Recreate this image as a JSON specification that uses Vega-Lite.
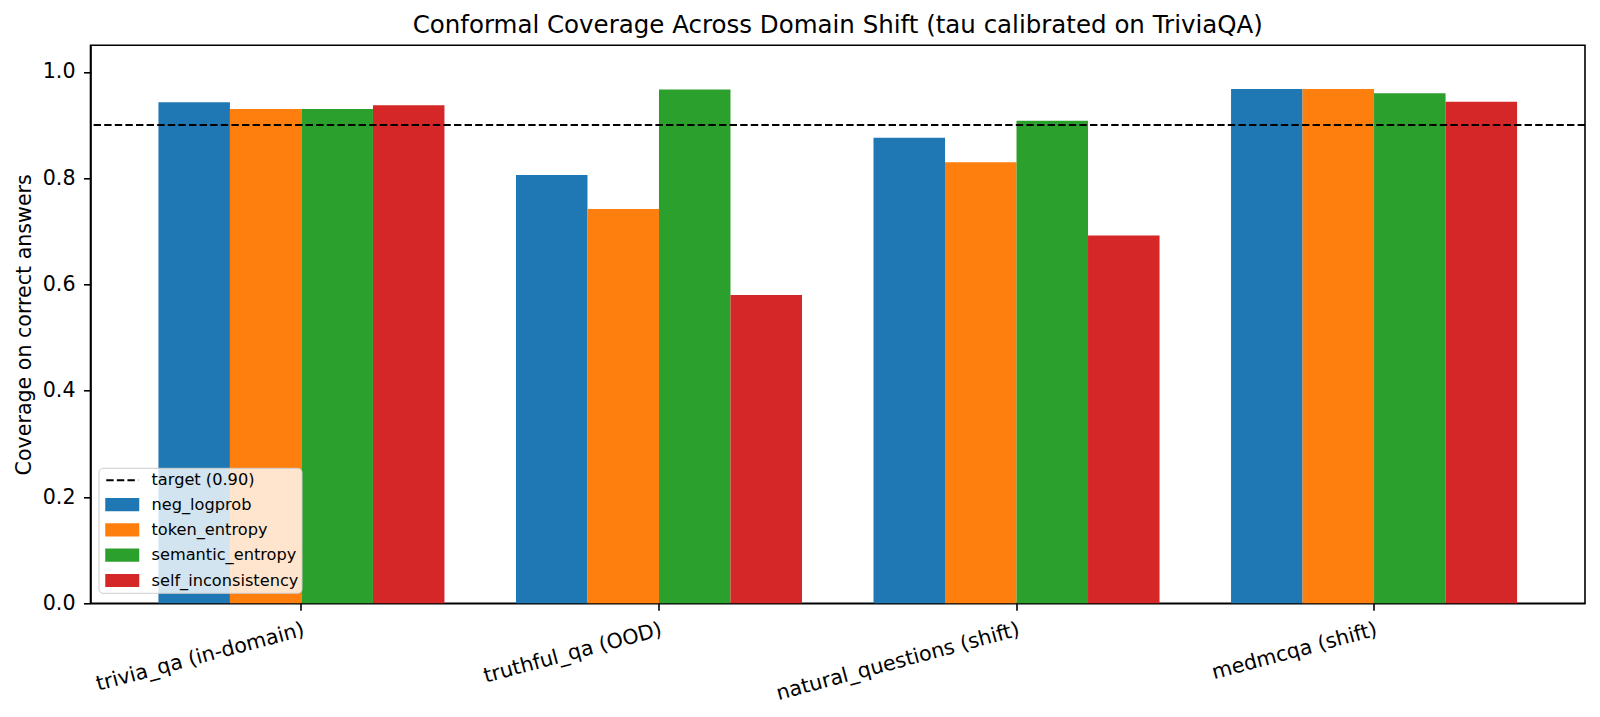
{
  "$schema": "https://vega.github.io/schema/vega-lite/v6.json",
  "width": 1494.5,
  "height": 558,
  "autosize": {"type": "none"},
  "padding": {"left": 90.5, "top": 45.3, "right": 15, "bottom": 113.7},
  "background": "white",
  "config": {
    "font": "DejaVu Sans",
    "view": {"stroke": "black", "strokeWidth": 1.6},
    "axis": {
      "labelFont": "DejaVu Sans",
      "labelFontSize": 20.6,
      "labelColor": "black",
      "labelLimit": 0,
      "titleFont": "DejaVu Sans",
      "titleFontSize": 20.6,
      "titleFontWeight": "normal",
      "titleColor": "black",
      "domainColor": "black",
      "domainWidth": 1.6,
      "tickColor": "black",
      "tickWidth": 1.6,
      "tickSize": 7,
      "grid": false
    }
  },
  "title": {
    "text": "Conformal Coverage Across Domain Shift (tau calibrated on TriviaQA)",
    "font": "DejaVu Sans",
    "fontSize": 24.5,
    "fontWeight": "normal",
    "color": "black",
    "anchor": "middle",
    "offset": 7
  },
  "datasets": {
    "bars": [
      {"dataset": "trivia_qa (in-domain)", "method": "neg_logprob", "coverage": 0.943},
      {"dataset": "trivia_qa (in-domain)", "method": "token_entropy", "coverage": 0.930},
      {"dataset": "trivia_qa (in-domain)", "method": "semantic_entropy", "coverage": 0.930},
      {"dataset": "trivia_qa (in-domain)", "method": "self_inconsistency", "coverage": 0.937},
      {"dataset": "truthful_qa (OOD)", "method": "neg_logprob", "coverage": 0.806},
      {"dataset": "truthful_qa (OOD)", "method": "token_entropy", "coverage": 0.742},
      {"dataset": "truthful_qa (OOD)", "method": "semantic_entropy", "coverage": 0.967},
      {"dataset": "truthful_qa (OOD)", "method": "self_inconsistency", "coverage": 0.580},
      {"dataset": "natural_questions (shift)", "method": "neg_logprob", "coverage": 0.876},
      {"dataset": "natural_questions (shift)", "method": "token_entropy", "coverage": 0.830},
      {"dataset": "natural_questions (shift)", "method": "semantic_entropy", "coverage": 0.908},
      {"dataset": "natural_questions (shift)", "method": "self_inconsistency", "coverage": 0.692},
      {"dataset": "medmcqa (shift)", "method": "neg_logprob", "coverage": 0.968},
      {"dataset": "medmcqa (shift)", "method": "token_entropy", "coverage": 0.968},
      {"dataset": "medmcqa (shift)", "method": "semantic_entropy", "coverage": 0.960},
      {"dataset": "medmcqa (shift)", "method": "self_inconsistency", "coverage": 0.944}
    ],
    "target": [
      {"method": "target (0.90)", "coverage": 0.9}
    ]
  },
  "layer": [
    {
      "data": {"name": "bars"},
      "mark": {"type": "bar"},
      "encoding": {
        "x": {
          "field": "dataset",
          "type": "nominal",
          "sort": ["trivia_qa (in-domain)", "truthful_qa (OOD)", "natural_questions (shift)", "medmcqa (shift)"],
          "scale": {"paddingInner": 0.2, "paddingOuter": 0.19},
          "axis": {
            "title": null,
            "labelAngle": -15,
            "labelAlign": "right",
            "labelBaseline": "top",
            "labelPadding": 9
          }
        },
        "xOffset": {
          "field": "method",
          "type": "nominal",
          "sort": ["neg_logprob", "token_entropy", "semantic_entropy", "self_inconsistency"],
          "scale": {"paddingInner": 0, "paddingOuter": 0}
        },
        "y": {
          "field": "coverage",
          "type": "quantitative",
          "scale": {"domain": [0, 1.05], "nice": false},
          "axis": {
            "title": "Coverage on correct answers",
            "values": [0, 0.2, 0.4, 0.6, 0.8, 1.0],
            "format": ".1f",
            "labelPadding": 8.5,
            "titlePadding": 8
          }
        },
        "color": {
          "field": "method",
          "type": "nominal",
          "scale": {
            "domain": ["target (0.90)", "neg_logprob", "token_entropy", "semantic_entropy", "self_inconsistency"],
            "range": ["black", "#1f77b4", "#ff7f0e", "#2ca02c", "#d62728"]
          },
          "legend": {
            "title": null,
            "orient": "none",
            "legendX": 8,
            "legendY": 422.5,
            "labelFont": "DejaVu Sans",
            "labelFontSize": 16.2,
            "labelColor": "black",
            "labelOffset": 19.25,
            "labelExpr": "datum.label + '  '",
            "symbolSize": 324,
            "symbolOffset": 11.25,
            "symbolType": "M-1.778,-0.622H1.778V0.622H-1.778Z",
            "rowPadding": 5.3,
            "padding": 2.5,
            "fillColor": "rgba(255,255,255,0.8)",
            "strokeColor": "#cccccc",
            "cornerRadius": 4,
            "encode": {
              "symbols": {
                "update": {
                  "shape": {"signal": "datum.value === 'target (0.90)' ? 'M-1.778,0H1.778' : 'M-1.778,-0.622H1.778V0.622H-1.778Z'"},
                  "fill": {"signal": "datum.value === 'target (0.90)' ? 'transparent' : scale('color', datum.value)"},
                  "stroke": {"signal": "datum.value === 'target (0.90)' ? 'black' : 'transparent'"},
                  "strokeDash": {"signal": "datum.value === 'target (0.90)' ? [7.4, 3.2] : [1, 0]"},
                  "strokeWidth": {"value": 2},
                  "opacity": {"value": 1}
                }
              }
            }
          }
        }
      }
    },
    {
      "data": {"name": "target"},
      "mark": {"type": "rule", "strokeDash": [7.4, 3.2], "strokeWidth": 2},
      "encoding": {
        "y": {"field": "coverage", "type": "quantitative"},
        "color": {"field": "method", "type": "nominal"}
      }
    }
  ]
}
